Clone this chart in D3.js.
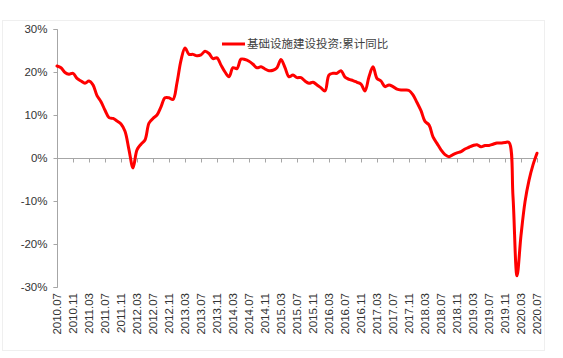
<!DOCTYPE html>
<html>
<head>
<meta charset="utf-8">
<script src="https://cdn.jsdelivr.net/npm/d3@7"></script>
<style>
  html, body { margin: 0; padding: 0; background: #fff; }
  svg { display: block; }
</style>
</head>
<body>
<svg id="chart" width="563" height="358"></svg>
<script>
// Monthly data, 2010.07 .. 2020.07 (121 months)
const startYear = 2010, startMonth = 7;
const seriesName = "基础设施建设投资:累计同比";
const values = [
  21.4, 21.0, 19.9, 19.5, 19.7, 18.5, 17.9, 17.4, 17.9, 17.0,
  14.5, 13.1, 11.1, 9.4, 9.2, 8.6, 7.9, 6.2, 1.9, -2.3,
  1.9, 3.2, 4.2, 8.1, 9.2, 10.0, 11.9, 14.0, 14.0, 13.6,
  17.5, 22.7, 25.6, 24.1, 24.1, 23.8, 24.0, 24.8, 24.3, 23.1,
  23.3, 21.6, 20.0, 18.9, 21.0, 20.8, 23.0, 22.9, 22.5, 21.8,
  21.0, 21.2, 20.7, 20.3, 20.4, 21.0, 22.9, 21.0, 18.9, 19.3,
  18.7, 18.7, 17.9, 17.4, 17.6, 17.0, 16.3, 15.6, 19.3, 19.7,
  19.7, 20.3, 18.8, 18.3, 18.0, 17.6, 17.2, 15.6, 18.9, 21.2,
  18.5, 17.9, 16.6, 17.0, 16.6, 16.0, 15.8, 15.8, 15.7, 14.7,
  12.9, 11.0, 8.5, 7.7, 4.9, 3.4, 1.9, 0.8, 0.3, 0.8,
  1.2, 1.5, 2.1, 2.5, 2.9, 3.1, 2.6, 2.9, 2.9, 3.2,
  3.5, 3.5, 3.6, 3.6, -9.0, -27.4, -18.0, -10.2, -5.2, -1.6,
  1.1
];
const tickLabels = [
  "2010.07","2010.11","2011.03","2011.07","2011.11","2012.03","2012.07","2012.11",
  "2013.03","2013.07","2013.11","2014.03","2014.07","2014.11","2015.03","2015.07",
  "2015.11","2016.03","2016.07","2016.11","2017.03","2017.07","2017.11","2018.03",
  "2018.07","2018.11","2019.03","2019.07","2019.11","2020.03","2020.07"
];
const yTicks = [-30, -20, -10, 0, 10, 20, 30];

// month categories
const categories = values.map((v, i) => {
  const t = (startMonth - 1) + i;
  const y = startYear + Math.floor(t / 12);
  const m = (t % 12) + 1;
  return y + "." + String(m).padStart(2, "0");
});

const svg = d3.select("#chart");

// faint outer frame
svg.append("rect")
  .attr("x", 2.5).attr("y", 20.5).attr("width", 542).attr("height", 330)
  .attr("fill", "#fff").attr("stroke", "#efefef");

const x = d3.scalePoint().domain(categories).range([57, 537]);
const y = d3.scaleLinear().domain([-30, 30]).range([287, 29]);

// Y axis
const yAxis = svg.append("g")
  .attr("transform", "translate(57.5,0)")
  .call(d3.axisLeft(y).tickValues(yTicks).tickSize(4).tickPadding(6)
        .tickFormat(d => d + "%"));
yAxis.select(".domain").attr("stroke", "#a6a6a6").attr("d", `M-4,${y(30)+0.5}H0V${y(-30)+0.5}H-4`);
yAxis.selectAll(".tick line").attr("stroke", "#a6a6a6");
yAxis.selectAll("text")
  .attr("font-family", "Liberation Sans, Arial, sans-serif")
  .attr("font-size", "11.5px").attr("fill", "#333");

// X axis on zero line
const xAxis = svg.append("g")
  .attr("transform", `translate(0,${Math.round(y(0)) + 0.5})`)
  .call(d3.axisBottom(x).tickValues(tickLabels).tickSize(4).tickFormat(""));
xAxis.select(".domain").attr("stroke", "#a6a6a6").attr("d", `M57,0H538`);
xAxis.selectAll(".tick line").attr("stroke", "#a6a6a6");

// X tick labels at bottom, rotated
svg.append("g").selectAll("text")
  .data(tickLabels)
  .join("text")
  .attr("transform", d => `translate(${x(d)},293) rotate(-90)`)
  .attr("dy", "0.36em")
  .attr("text-anchor", "end")
  .attr("font-family", "Liberation Sans, Arial, sans-serif")
  .attr("font-size", "11.5px")
  .attr("fill", "#333")
  .text(d => d);

// line
const line = d3.line()
  .x((d, i) => x(categories[i]))
  .y(d => y(d))
  .curve(d3.curveCatmullRom.alpha(0.5));

svg.append("path")
  .datum(values)
  .attr("d", line)
  .attr("fill", "none")
  .attr("stroke", "#ff0000")
  .attr("stroke-width", 3)
  .attr("stroke-linejoin", "round")
  .attr("stroke-linecap", "round");

// legend
const lg = svg.append("g").attr("transform", "translate(222,44)");
lg.append("line").attr("x1", 0).attr("x2", 23).attr("y1", 0).attr("y2", 0)
  .attr("stroke", "#ff0000").attr("stroke-width", 3);
lg.append("text").attr("x", 25).attr("y", 0).attr("dy", "0.36em")
  .attr("font-family", "Noto Sans CJK SC, sans-serif")
  .attr("font-size", "11.5px").attr("fill", "#404040")
  .text(seriesName);
</script>
</body>
</html>
